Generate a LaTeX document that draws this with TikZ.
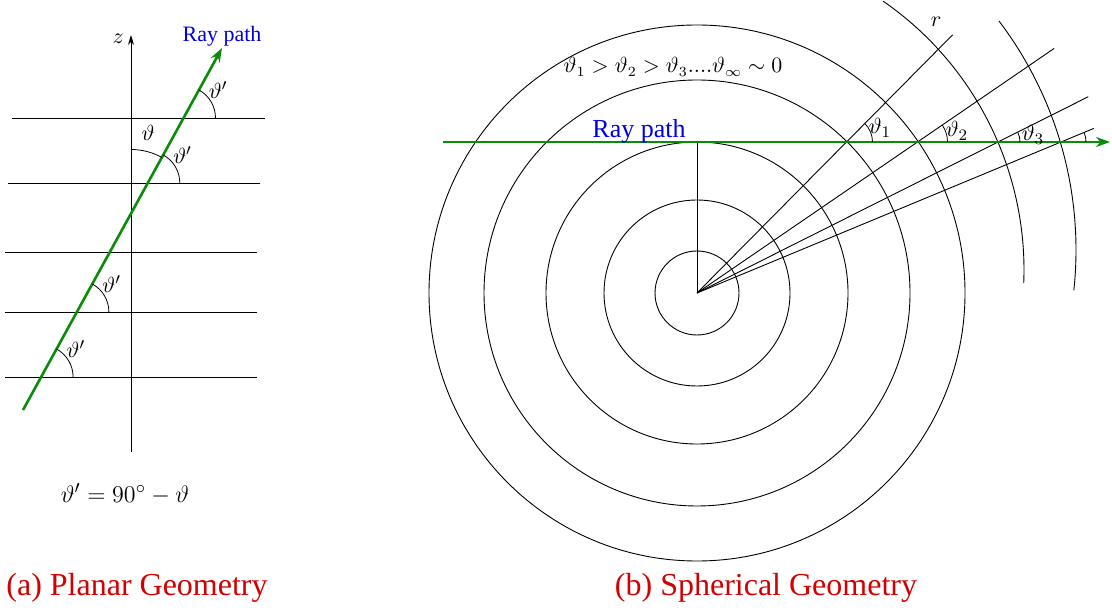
\documentclass[tikz,border=0pt]{standalone}
\usepackage{fontspec}
\newfontfamily\timesfont{Liberation Serif}
\usetikzlibrary{arrows.meta,calc}
\definecolor{raygreen}{RGB}{10,140,10}
\definecolor{rayblue}{RGB}{0,0,225}
\definecolor{capred}{RGB}{210,0,0}
\tikzset{
	ray/.style = {raygreen, line width = 1.3pt, -{Stealth[length = 7pt, width = 5pt]}},
	layer/.style = {line width = 0.45pt},
	angmark/.style = {line width = 0.4pt},
	raylabel/.style = {rayblue, font = \timesfont\fontsize{#1}{15}\selectfont},
	raylabel/.default = 11,
	caption/.style = {capred, font = \timesfont\fontsize{16}{18}\selectfont}
}
\begin{document}
\begin{tikzpicture} [x = 0.5pt, y = 0.5pt, font = \fontsize{11}{13}\selectfont]
	\useasboundingbox (0,0) rectangle (1112,610);
	\draw [layer] (12,492) -- (265,492);
	\draw [layer] (8,427) -- (260,427);
	\foreach \y in {358,298,233}
		\draw [layer] (5,\y) -- (257,\y);
	\draw [layer, -{Stealth[length = 5pt, width = 3pt]}] (131,158) -- (131,575) node [left, yshift = -2pt] {$z$};
	\coordinate (ray0) at (23,200);
	\coordinate (ray1) at (222,562);
	\draw [ray] (ray0) -- (ray1) node [above, yshift = -3pt, raylabel] {Ray path};
	\foreach \x/\y in {183.5/492, 147.8/427, 76.9/298, 41.1/233}
		\draw [angmark] (\x,\y) ++(0:32) arc (0:61.2:32) node [right, xshift = 1.5pt] {$\vartheta'$};
	\coordinate (cross) at (131,396.5);
	\draw [angmark] (cross) ++(90:64) arc (90:61.2:64);
	\node at (148,477) {$\vartheta$};
	\node [font = \fontsize{12.5}{14}\selectfont] at (125,116) {$\vartheta' = 90^\circ - \vartheta$};
	\node [caption] at (137,22) {(a) Planar Geometry};
	\coordinate (O) at (697,317);
	\foreach \r in {42,93,151,213,268}
		\draw [layer] (O) circle (\r);
	\draw [layer] (697,340) ++(55.3:327) arc (55.3:-2.3:327);
	\draw [layer] (697,360) ++(37.2:379) arc (37.2:-6.1:379);
	\draw [layer] (O) -- (697,468);
	\coordinate (P1) at (846.5,468);
	\coordinate (P2) at (917.5,468);
	\coordinate (P3) at (998,468);
	\coordinate (P4) at (1061,468);
	\foreach \p/\f in {P1/1.71, P2/1.62, P3/1.30, P4/1.09}
		\draw [layer] (O) -- ($(O)!\f!(\p)$);
	\draw [ray] (443,468) -- (1110,468);
	\node [raylabel = 13] at (639,479) {Ray path};
	\draw [angmark] (P1) ++(0:26) arc (0:45.3:26);
	\draw [angmark] (P2) ++(0:30) arc (0:34.5:30);
	\draw [angmark] (P3) ++(0:22) arc (0:26.6:22);
	\draw [angmark] (P4) ++(0:25) arc (0:22.5:25);
	\node at (880,482) {$\vartheta_1$};
	\node at (957,479) {$\vartheta_2$};
	\node at (1033,475) {$\vartheta_3$};
	\node at (936,588) {$r$};
	\node [font = \fontsize{10.5}{12}\selectfont] at (673,543) {$\vartheta_1 > \vartheta_2 > \vartheta_3....\vartheta_\infty \sim 0$};
	\node [caption] at (766,22) {(b) Spherical Geometry};
\end{tikzpicture}
\end{document}
